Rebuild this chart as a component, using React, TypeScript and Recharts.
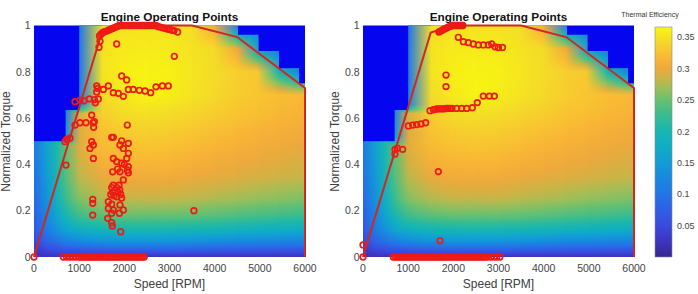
import React from "react";
import {
  ScatterChart,
  Scatter,
  XAxis,
  YAxis,
  ReferenceArea,
  BarChart,
  Bar,
} from "recharts";

const FONT = '"Liberation Sans", Arial, Helvetica, sans-serif';

const SPEED_TICKS = [0, 1000, 2000, 3000, 4000, 5000, 6000];
const TORQUE_TICKS = [0, 0.2, 0.4, 0.6, 0.8, 1];
const EFF_TICKS = [0.05, 0.1, 0.15, 0.2, 0.25, 0.3, 0.35];
const EFF_MAX = 0.366;

// max torque curve
const ENVELOPE: [number, number][] = [
  [0, 0], [1500, 0.97], [2000, 1], [3500, 1], [4500, 0.95], [6000, 0.73], [6000, 0],
];

// efficiency map: speed columns x torque rows
const MAP_SPEEDS = [0, 250, 500, 700, 1000, 1500, 2000, 2500, 3000, 3500, 4000, 4500, 4950, 5400, 5850, 6000];
const MAP_TORQUES = [0, 0.03, 0.07, 0.12, 0.18, 0.25, 0.35, 0.48, 0.52, 0.62, 0.66, 0.7, 0.8, 0.9, 1];
// top of the filled map between neighbouring columns (blue above)
const MAP_LIMITS = [0.5, 0.5, 0.5, 0.635, 1, 1, 1, 1, 1, 1, 1, 0.96, 0.89, 0.815, 0.75];
const MAP_EFF = [
  [0.02, 0.03, 0.05, 0.065, 0.075, 0.085, 0.095, 0.105, 0.1, 0.1, 0.1, 0.1, 0.1, 0.1, 0.1],
  [0.02, 0.045, 0.08, 0.105, 0.12, 0.135, 0.145, 0.155, 0.15, 0.1, 0.1, 0.1, 0.1, 0.1, 0.1],
  [0.02, 0.055, 0.1, 0.14, 0.165, 0.185, 0.2, 0.205, 0.2, 0.1, 0.1, 0.1, 0.1, 0.1, 0.1],
  [0.02, 0.06, 0.115, 0.165, 0.2, 0.225, 0.24, 0.245, 0.14, 0.12, 0.11, 0.1, 0.1, 0.1, 0.1],
  [0.02, 0.065, 0.13, 0.185, 0.23, 0.26, 0.28, 0.295, 0.295, 0.29, 0.12, 0.11, 0.1, 0.1, 0.1],
  [0.02, 0.07, 0.14, 0.195, 0.245, 0.275, 0.3, 0.32, 0.322, 0.335, 0.34, 0.345, 0.35, 0.35, 0.345],
  [0.02, 0.075, 0.145, 0.2, 0.25, 0.282, 0.305, 0.325, 0.33, 0.345, 0.35, 0.355, 0.36, 0.355, 0.35],
  [0.02, 0.075, 0.145, 0.2, 0.25, 0.282, 0.305, 0.328, 0.332, 0.348, 0.355, 0.362, 0.362, 0.356, 0.35],
  [0.02, 0.075, 0.145, 0.2, 0.25, 0.282, 0.305, 0.325, 0.33, 0.345, 0.352, 0.358, 0.36, 0.355, 0.35],
  [0.02, 0.072, 0.14, 0.198, 0.247, 0.278, 0.3, 0.32, 0.325, 0.34, 0.345, 0.35, 0.352, 0.35, 0.345],
  [0.02, 0.07, 0.135, 0.195, 0.243, 0.274, 0.297, 0.315, 0.32, 0.333, 0.338, 0.342, 0.345, 0.343, 0.3],
  [0.02, 0.068, 0.13, 0.19, 0.238, 0.27, 0.293, 0.31, 0.315, 0.327, 0.33, 0.333, 0.335, 0.3, 0.1],
  [0.02, 0.066, 0.128, 0.186, 0.234, 0.265, 0.29, 0.306, 0.31, 0.322, 0.325, 0.328, 0.33, 0.16, 0.1],
  [0.02, 0.064, 0.125, 0.183, 0.23, 0.262, 0.287, 0.302, 0.306, 0.317, 0.32, 0.323, 0.2, 0.1, 0.1],
  [0.02, 0.062, 0.122, 0.18, 0.225, 0.258, 0.284, 0.298, 0.302, 0.313, 0.316, 0.318, 0.12, 0.1, 0.1],
  [0.02, 0.062, 0.12, 0.18, 0.225, 0.258, 0.283, 0.297, 0.3, 0.312, 0.315, 0.317, 0.11, 0.1, 0.1],
];

// colour map (thermal efficiency -> colour)
const CMAP_LEVELS = [0, 0.025, 0.05, 0.075, 0.1, 0.125, 0.15, 0.175, 0.2, 0.225, 0.25, 0.27, 0.285, 0.3, 0.315, 0.33, 0.345, 0.366];
const CMAP_COLORS = [
  "#37258f", "#3d35c0", "#3a4ade", "#2f5fe6", "#2276e6", "#1888e0", "#129cd6", "#10acc6", "#18b6b0",
  "#38bc90", "#68c070", "#a0be58", "#cdb346", "#eea93c", "#f8b536", "#f8c830", "#f4dc28", "#f8f80e",
];
const OUTSIDE_BLUE = "#0505f0";

// left plot operating points
const LEFT_IDLE_SPEEDS = [
  650, 720, 790, 860, 930, 1000, 1040, 1080, 1120, 1160, 1200, 1240, 1280, 1320, 1360, 1400, 1440,
  1480, 1520, 1560, 1600, 1640, 1680, 1720, 1760, 1800, 1840, 1880, 1920, 1960, 2000, 2040, 2080,
  2120, 2160, 2200, 2240, 2280, 2320, 2360, 2400, 2440,
];
const LEFT_FULL_LOAD: [number, number][] = [
  [1450, 0.955], [1480, 0.962], [1510, 0.968], [1550, 0.972], [1590, 0.975], [1630, 0.978],
  [1670, 0.982], [1710, 0.985], [1750, 0.988], [1790, 0.992], [1830, 0.995], [1870, 0.998],
  [1910, 1], [1950, 1], [2000, 1], [2050, 1], [2100, 1], [2150, 1], [2200, 1], [2250, 1],
  [2300, 1], [2350, 1], [2400, 1], [2450, 1], [2500, 1], [2550, 1], [2600, 1], [2650, 1],
  [2700, 1], [2750, 0.995], [2800, 0.993], [2850, 0.99], [2900, 0.988], [2950, 0.985],
  [3000, 0.983], [3050, 0.98], [3100, 0.978],
];
const LEFT_POINTS: [number, number][] = [
  [0, 0], [1439, 0.906], [1461, 0.932], [1830, 0.92], [3181, 0.972], [3107, 0.867],
  [1941, 0.782], [2052, 0.765],
  [1388, 0.739], [1410, 0.728], [1388, 0.713], [1535, 0.724], [1646, 0.739], [1756, 0.71],
  [1867, 0.707], [1978, 0.694], [2089, 0.724], [2196, 0.724], [2332, 0.72], [2458, 0.717],
  [2583, 0.71], [2701, 0.735], [2841, 0.739], [2974, 0.739],
  [908, 0.671], [1018, 0.678], [1107, 0.675], [1225, 0.683], [1336, 0.68], [1424, 0.683], [1358, 0.666],
  [908, 0.57], [1018, 0.58], [1151, 0.58], [1277, 0.613], [1310, 0.58], [1320, 0.56], [1336, 0.585],
  [2066, 0.57], [686, 0.498], [724, 0.508], [797, 0.513], [709, 0.397],
  [1277, 0.498], [1314, 0.484], [1240, 0.469], [1314, 0.426],
  [1720, 0.517], [1756, 0.517], [1941, 0.502], [1904, 0.484], [2089, 0.491], [1978, 0.469],
  [2089, 0.448], [2052, 0.426], [1756, 0.426], [1830, 0.412], [1941, 0.405], [2089, 0.39],
  [2000, 0.4], [1904, 0.368], [2089, 0.364], [1742, 0.368], [1978, 0.333], [2070, 0.375], [1850, 0.38],
  [1720, 0.3], [1756, 0.31], [1830, 0.3], [1740, 0.28], [1790, 0.28], [1860, 0.28], [1700, 0.27],
  [1770, 0.265], [1830, 0.26], [1900, 0.29], [1920, 0.27], [1940, 0.255], [1880, 0.31],
  [1300, 0.249], [1300, 0.232], [1300, 0.181],
  [1646, 0.239], [1720, 0.228], [1646, 0.21], [1756, 0.203], [1904, 0.225], [1978, 0.203],
  [1890, 0.189], [1720, 0.189], [1632, 0.167], [1720, 0.148], [1734, 0.134], [1919, 0.109],
  [3540, 0.2],
];

// right plot operating points
const RIGHT_IDLE_SPEEDS = [
  670, 710, 750, 790, 830, 870, 910, 950, 990, 1030, 1070, 1110, 1150, 1190, 1230, 1270, 1310,
  1350, 1390, 1430, 1470, 1510, 1550, 1590, 1630, 1670, 1710, 1750, 1790, 1830, 1870, 1910, 1950,
  1990, 2030, 2070, 2110, 2150, 2190, 2230, 2270, 2310, 2350, 2390, 2430, 2470, 2510, 2550, 2590,
  2630, 2670, 2710, 2750, 2830, 2900, 2960, 3030,
];
const RIGHT_FULL_LOAD: [number, number][] = [
  [1680, 0.972], [1710, 0.975], [1740, 0.978], [1770, 0.982], [1800, 0.985], [1830, 0.988],
  [1860, 0.99], [1890, 0.993], [1920, 0.996], [1950, 0.998], [1980, 1], [2010, 1], [2040, 1],
  [2070, 1], [2100, 1], [2130, 1], [2160, 1], [2190, 1], [2210, 1],
];
const RIGHT_POINTS: [number, number][] = [
  [0, 0], [0, 0.052], [1705, 0.07], [1668, 0.369],
  [2111, 0.949], [2222, 0.93], [2332, 0.926], [2443, 0.92], [2553, 0.916], [2664, 0.916],
  [2775, 0.916], [2849, 0.92], [2923, 0.908], [2997, 0.905], [3089, 0.905],
  [1838, 0.786], [1838, 0.736],
  [2664, 0.695], [2797, 0.695], [2908, 0.695], [2531, 0.667],
  [1484, 0.632], [1560, 0.636], [1600, 0.638], [1640, 0.64], [1680, 0.64], [1720, 0.64],
  [1760, 0.64], [1800, 0.64], [1840, 0.642], [1880, 0.642], [1920, 0.642], [1970, 0.642],
  [2074, 0.642], [2185, 0.642], [2296, 0.642], [2420, 0.645],
  [1004, 0.566], [1100, 0.57], [1188, 0.572], [1284, 0.575], [1387, 0.58],
  [708, 0.465], [760, 0.47], [878, 0.465], [708, 0.445],
];

const toRgb = (h: string) => [1, 3, 5].map((i) => parseInt(h.slice(i, i + 2), 16));

function effColor(v: number) {
  if (v <= CMAP_LEVELS[0]) return CMAP_COLORS[0];
  for (let i = 1; i < CMAP_LEVELS.length; i++) {
    if (v <= CMAP_LEVELS[i]) {
      const f = (v - CMAP_LEVELS[i - 1]) / (CMAP_LEVELS[i] - CMAP_LEVELS[i - 1]);
      const a = toRgb(CMAP_COLORS[i - 1]);
      const b = toRgb(CMAP_COLORS[i]);
      const c = a.map((x, k) => Math.round(x + (b[k] - x) * f));
      return `rgb(${c[0]},${c[1]},${c[2]})`;
    }
  }
  return CMAP_COLORS[CMAP_COLORS.length - 1];
}

function columnStops(col: number[]) {
  const stops: { offset: number; color: string }[] = [];
  for (let r = 0; r < MAP_TORQUES.length - 1; r++) {
    for (let k = 0; k < 4; k++) {
      const f = k / 4;
      stops.push({
        offset: MAP_TORQUES[r] + (MAP_TORQUES[r + 1] - MAP_TORQUES[r]) * f,
        color: effColor(col[r] + (col[r + 1] - col[r]) * f),
      });
    }
  }
  stops.push({ offset: 1, color: effColor(col[col.length - 1]) });
  return stops;
}

function renderMapDefs(id: string) {
  return (
    <defs>
      <linearGradient id={`${id}-ramp-g`} x1={0} y1={0} x2={1} y2={0}>
        <stop offset={0} stopColor="#fff" stopOpacity={0} />
        <stop offset={1} stopColor="#fff" stopOpacity={1} />
      </linearGradient>
      <mask id={`${id}-ramp`} maskContentUnits="objectBoundingBox" style={{ maskType: "alpha" }}>
        <rect x={0} y={0} width={1} height={1} fill={`url(#${id}-ramp-g)`} />
      </mask>
      {MAP_LIMITS.map((lim, i) =>
        [i, i + 1].map((j, side) => (
          <linearGradient
            key={`${i}-${side}`}
            id={`${id}-c${i}-${side}`}
            x1={0}
            y1={1}
            x2={0}
            y2={1 - 1 / lim}
          >
            {columnStops(MAP_EFF[j]).map((s, k) => (
              <stop key={k} offset={s.offset} stopColor={s.color} />
            ))}
          </linearGradient>
        )),
      )}
    </defs>
  );
}

const mapCell = (id: string, i: number) => (p: any) => {
  const w = p.width + (i < MAP_LIMITS.length - 1 ? 0.8 : 0);
  return (
    <g>
      <rect x={p.x} y={p.y} width={w} height={p.height} fill={`url(#${id}-c${i}-0)`} />
      <rect
        x={p.x}
        y={p.y}
        width={w}
        height={p.height}
        fill={`url(#${id}-c${i}-1)`}
        mask={`url(#${id}-ramp)`}
      />
    </g>
  );
};

const renderCircle = (p: any) => (
  <circle cx={p.cx} cy={p.cy} r={2.8} fill="none" stroke="#ee1a14" strokeWidth={1.7} />
);

const toPoints = (idle: number[], full: [number, number][], rest: [number, number][]) => [
  ...idle.map((s) => ({ speed: s, torque: 0 })),
  ...full.map(([s, t]) => ({ speed: s, torque: t })),
  ...rest.map(([s, t]) => ({ speed: s, torque: t })),
];

const envelopeData = ENVELOPE.map(([s, t]) => ({ speed: s, torque: t }));
const tickStyle = { fontSize: 10.5, fill: "#444", fontFamily: FONT };

function OperatingPoints({ id, points }: { id: string; points: { speed: number; torque: number }[] }) {
  return (
    <ScatterChart width={330} height={294} margin={{ top: 25.5, right: 25, bottom: 0, left: 0 }}>
      {renderMapDefs(id)}
      <XAxis
        type="number"
        dataKey="speed"
        domain={[0, 6000]}
        ticks={SPEED_TICKS}
        interval={0}
        height={37}
        axisLine={false}
        tickLine={false}
        tickSize={0}
        tickMargin={8}
        tick={tickStyle}
      />
      <YAxis
        type="number"
        dataKey="torque"
        domain={[0, 1]}
        ticks={TORQUE_TICKS}
        interval={0}
        width={34}
        axisLine={false}
        tickLine={false}
        tickSize={0}
        tickMargin={3.5}
        tick={tickStyle}
      />
      <ReferenceArea x1={0} x2={6000} y1={0} y2={1} fill={OUTSIDE_BLUE} fillOpacity={1} stroke="none" />
      {MAP_LIMITS.map((lim, i) => (
        <ReferenceArea
          key={i}
          x1={MAP_SPEEDS[i]}
          x2={MAP_SPEEDS[i + 1]}
          y1={0}
          y2={lim}
          shape={mapCell(id, i)}
        />
      ))}
      <Scatter
        data={envelopeData}
        line={{ stroke: "#d0281c", strokeWidth: 2 }}
        shape={() => <g />}
        isAnimationActive={false}
      />
      <Scatter data={points} shape={renderCircle} isAnimationActive={false} />
    </ScatterChart>
  );
}

const COLORBAR_DATA = [{ name: "eff", value: EFF_MAX }];

function ColorBar() {
  return (
    <BarChart
      width={88}
      height={294}
      data={COLORBAR_DATA}
      margin={{ top: 27, right: 0, bottom: 37, left: 45 }}
      barCategoryGap={0}
    >
      <defs>
        <linearGradient id="cbar-g" x1={0} y1={1} x2={0} y2={0}>
          {CMAP_LEVELS.map((v, i) => (
            <stop key={i} offset={v / EFF_MAX} stopColor={CMAP_COLORS[i]} />
          ))}
        </linearGradient>
      </defs>
      <XAxis dataKey="name" hide />
      <YAxis
        orientation="right"
        type="number"
        domain={[0, EFF_MAX]}
        ticks={EFF_TICKS}
        interval={0}
        width={26}
        axisLine={false}
        tickLine={false}
        tickSize={0}
        tickMargin={5}
        tick={{ fontSize: 9, fill: "#444", fontFamily: FONT }}
      />
      <Bar dataKey="value" fill="url(#cbar-g)" stroke="#8a8a8a" strokeWidth={0.6} isAnimationActive={false} />
    </BarChart>
  );
}

export default function App() {
  const left = toPoints(LEFT_IDLE_SPEEDS, LEFT_FULL_LOAD, LEFT_POINTS);
  const right = toPoints(RIGHT_IDLE_SPEEDS, RIGHT_FULL_LOAD, RIGHT_POINTS);
  const labelStyle = { fontFamily: FONT, fontSize: 12, fill: "#404040" };
  const titleStyle = { fontFamily: FONT, fontSize: 11.8, fontWeight: 700, fill: "#111" };
  return (
    <div style={{ position: "absolute", left: 0, top: 0, width: 698, height: 294, background: "#fff" }}>
      <svg width={698} height={294} style={{ position: "absolute", left: 0, top: 0 }}>
        <text x={169.5} y={20.5} textAnchor="middle" style={titleStyle}>Engine Operating Points</text>
        <text x={498.5} y={20.5} textAnchor="middle" style={titleStyle}>Engine Operating Points</text>
        <text x={169.5} y={288} textAnchor="middle" style={labelStyle}>Speed [RPM]</text>
        <text x={498.5} y={288} textAnchor="middle" style={labelStyle}>Speed [RPM]</text>
        <text x={9.5} y={141.5} textAnchor="middle" transform="rotate(-90 9.5 141.5)" style={labelStyle}>
          Normalized Torque
        </text>
        <text x={338.5} y={141.5} textAnchor="middle" transform="rotate(-90 338.5 141.5)" style={labelStyle}>
          Normalized Torque
        </text>
        <text x={650} y={16.5} textAnchor="middle" style={{ fontFamily: FONT, fontSize: 7, fill: "#333" }}>
          Thermal Efficiency
        </text>
      </svg>
      <div style={{ position: "absolute", left: 0, top: 0 }}>
        <OperatingPoints id="L" points={left} />
      </div>
      <div style={{ position: "absolute", left: 329, top: 0 }}>
        <OperatingPoints id="R" points={right} />
      </div>
      <div style={{ position: "absolute", left: 610, top: 0 }}>
        <ColorBar />
      </div>
    </div>
  );
}
